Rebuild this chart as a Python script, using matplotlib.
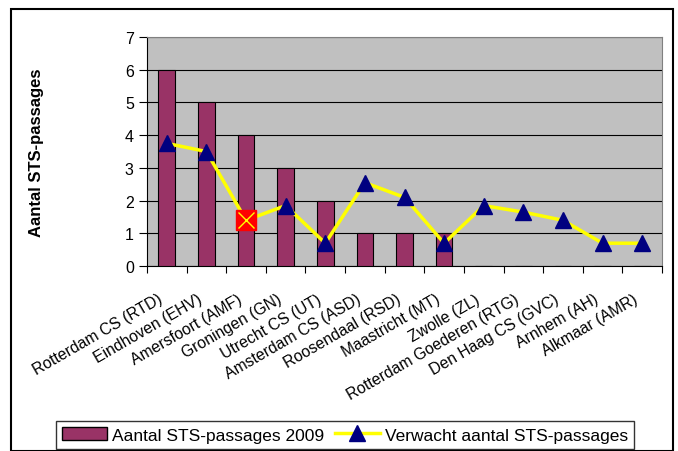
import numpy as np
import matplotlib.pyplot as plt
from matplotlib.patches import Rectangle
from matplotlib.lines import Line2D

plt.rcParams['font.family'] = ['Liberation Sans', 'DejaVu Sans']

# Stations
stations = ["Rotterdam CS (RTD)", "Eindhoven (EHV)", "Amersfoort (AMF)", "Groningen (GN)",
            "Utrecht CS (UT)", "Amsterdam CS (ASD)", "Roosendaal (RSD)", "Maastricht (MT)",
            "Zwolle (ZL)", "Rotterdam Goederen (RTG)", "Den Haag CS (GVC)", "Arnhem (AH)",
            "Alkmaar (AMR)"]
passages_2009 = [6, 5, 4, 3, 2, 1, 1, 1, 0, 0, 0, 0, 0]
verwacht = [3.75, 3.5, 1.4, 1.85, 0.7, 2.55, 2.1, 0.7, 1.85, 1.65, 1.4, 0.7, 0.7]
uitschieter = 2  # punt met afwijkende markering

fig = plt.figure(figsize=(6.78, 4.52), dpi=100)
ax = fig.add_axes([147 / 678, 0.409, 515 / 678, 0.507])
ax.set_facecolor('#C0C0C0')

x = np.arange(len(stations))
ax.bar(x, passages_2009, width=0.42, color='#993366', edgecolor='black', linewidth=0.8, zorder=3)

ax.plot(x, verwacht, color='#FFFF00', linewidth=2.5, zorder=4)
for i, v in enumerate(verwacht):
    if i == uitschieter:
        ax.plot(i, v, marker='s', markersize=15, color='#FF0000', zorder=5, linestyle='none')
        ax.plot(i, v, marker='x', markersize=12, color='#FFFF00', markeredgewidth=1, zorder=6)
    else:
        ax.plot(i, v, marker='^', markersize=12, color='#000080', zorder=5, linestyle='none')

ax.set_xlim(-0.5, len(stations) - 0.5)
ax.set_ylim(0, 7)
ax.set_yticks(range(8))
ax.yaxis.grid(True, color='black', linewidth=0.8, zorder=0)
ax.set_axisbelow(True)

# tickstreepjes tussen de categorieen, labels los geplaatst (Excel-stijl)
ax.set_xticks(np.arange(-0.5, len(stations)))
ax.set_xticklabels([])
ax.tick_params(axis='x', length=5, direction='out')
for i, naam in enumerate(stations):
    ax.annotate(naam, xy=(i, 0), xycoords=('data', 'axes fraction'),
                xytext=(-6.5, -18), textcoords='offset points',
                rotation=30, ha='right', va='top', rotation_mode='anchor', fontsize=11.3)
ax.tick_params(axis='y', length=6, direction='out', labelsize=11.5)

for side in ['top', 'right']:
    ax.spines[side].set_color('#808080')
ax.spines['left'].set_color('black')
ax.spines['bottom'].set_color('black')

ax.set_ylabel('Aantal STS-passages', fontsize=12, fontweight='bold')
ax.yaxis.set_label_coords(-0.20, 0.5)

handles = [Rectangle((0, 0), 1, 1, facecolor='#993366', edgecolor='black'),
           Line2D([], [], color='#FFFF00', linewidth=2.5, marker='^', markersize=11,
                  markerfacecolor='#000080', markeredgecolor='#000080')]
leg = fig.legend(handles, ['Aantal STS-passages 2009', 'Verwacht aantal STS-passages'],
                 loc='lower center', bbox_to_anchor=(0.509, -0.014), ncol=2, fontsize=12.5,
                 frameon=True, fancybox=False, edgecolor='black', handlelength=2.6,
                 handletextpad=0.3, columnspacing=0.6, borderpad=0.35)
leg.get_frame().set_linewidth(1)

fig.patches.append(Rectangle((11 / 678, 0), 662 / 678, 442 / 452, transform=fig.transFigure,
                             fill=False, edgecolor='black', linewidth=1.5))

fig.savefig('out.png', dpi=100)
